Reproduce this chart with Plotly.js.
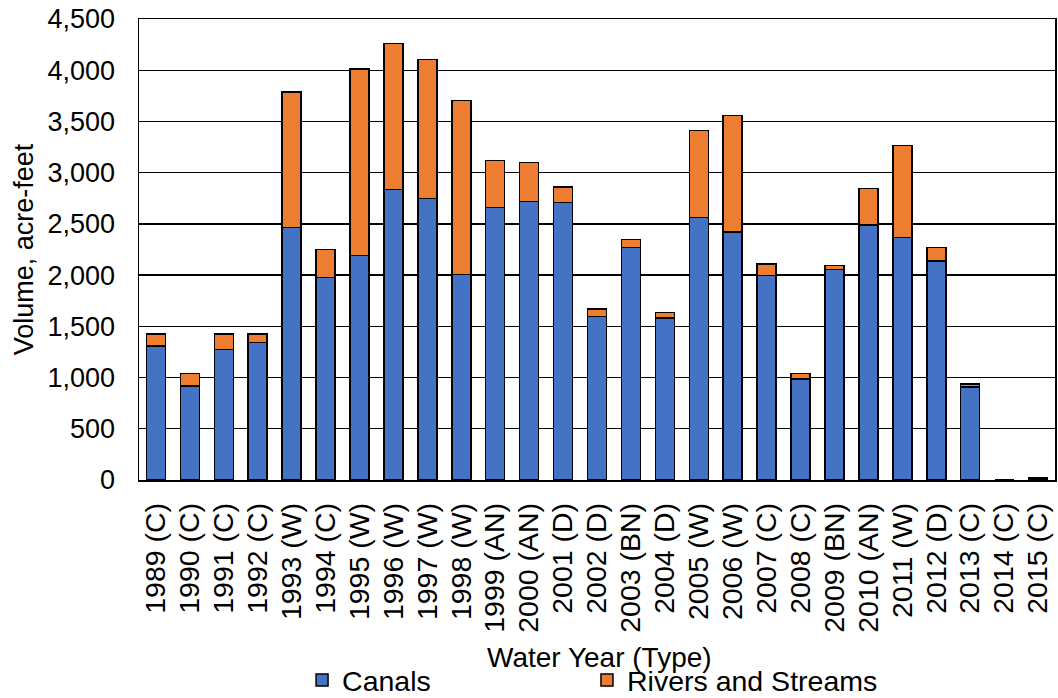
<!DOCTYPE html>
<html>
<head>
<meta charset="utf-8">
<script src="https://cdn.plot.ly/plotly-3.0.1.min.js"></script>
<style>html,body{margin:0;padding:0;background:#fff;}#chart{width:1058px;height:698px;}</style>
</head>
<body>
<div id="chart"></div>
<script>
const categories = ["1989 (C)","1990 (C)","1991 (C)","1992 (C)","1993 (W)","1994 (C)","1995 (W)","1996 (W)","1997 (W)","1998 (W)","1999 (AN)","2000 (AN)","2001 (D)","2002 (D)","2003 (BN)","2004 (D)","2005 (W)","2006 (W)","2007 (C)","2008 (C)","2009 (BN)","2010 (AN)","2011 (W)","2012 (D)","2013 (C)","2014 (C)","2015 (C)"];
const canals = [1310, 920, 1275, 1340, 2467, 1975, 2190, 2834, 2750, 2005, 2662, 2717, 2707, 1598, 2268, 1581, 2564, 2421, 1998, 986, 2057, 2489, 2366, 2138, 910, 0, 12];
const riversAndStreams = [115, 118, 150, 85, 1321, 273, 1822, 1429, 1357, 1701, 459, 381, 153, 71, 78, 56, 846, 1135, 110, 55, 39, 358, 897, 133, 25, 0, 10];
const yTickValues = [0, 500, 1000, 1500, 2000, 2500, 3000, 3500, 4000, 4500];
const xTitle = "Water Year (Type)";
const yTitle = "Volume, acre-feet";

const FONT = "Liberation Sans, Arial, sans-serif";
const traces = [
  {type: "bar", name: "Canals", x: categories, y: canals, legend: "legend",
   marker: {color: "#4472C4", line: {color: "#000000", width: 1.5}}},
  {type: "bar", name: "Rivers and Streams", x: categories, y: riversAndStreams, legend: "legend2",
   marker: {color: "#ED7D31", line: {color: "#000000", width: 1.5}}}
];
const legendBase = {orientation: "h", xref: "container", yref: "container", xanchor: "left", y: 0.025, yanchor: "middle",
           font: {family: FONT, size: 28.5, color: "#000"}, itemwidth: 30};
const layout = {
  width: 1058, height: 698,
  margin: {l: 139, r: 3, t: 19, b: 218},
  barmode: "stack", bargap: 0.44,
  paper_bgcolor: "#ffffff", plot_bgcolor: "#ffffff",
  font: {family: FONT, color: "#000000", size: 27},
  showlegend: true,
  legend: Object.assign({}, legendBase, {x: 0.2855}),
  legend2: Object.assign({}, legendBase, {x: 0.5548}),
  xaxis: {type: "category", tickmode: "linear", tick0: 0, dtick: 1, tickangle: -90,
          showline: true, linecolor: "#000", linewidth: 1.5, mirror: true,
          ticks: "", showgrid: false, automargin: false, ticklabelstandoff: 10,
          tickfont: {family: FONT, size: 28.5, color: "#000"}},
  yaxis: {range: [0, 4500], tickvals: yTickValues, tickformat: ",", showline: true, linecolor: "#000", linewidth: 1.5, mirror: true,
          showgrid: true, gridcolor: "#000", gridwidth: 1.4, zeroline: false, ticks: "", automargin: false,
          ticklabelstandoff: 17,
          tickfont: {family: FONT, size: 27, color: "#000"},
          title: {text: yTitle, font: {family: FONT, size: 27, color: "#000"}, standoff: 6}},
  annotations: [
    {text: xTitle, xref: "paper", yref: "paper", x: 0.503, y: -0.386, xanchor: "center", yanchor: "middle",
     showarrow: false, font: {family: FONT, size: 28, color: "#000"}}
  ]
};
Plotly.newPlot("chart", traces, layout, {displayModeBar: false, staticPlot: true});
</script>
</body>
</html>
